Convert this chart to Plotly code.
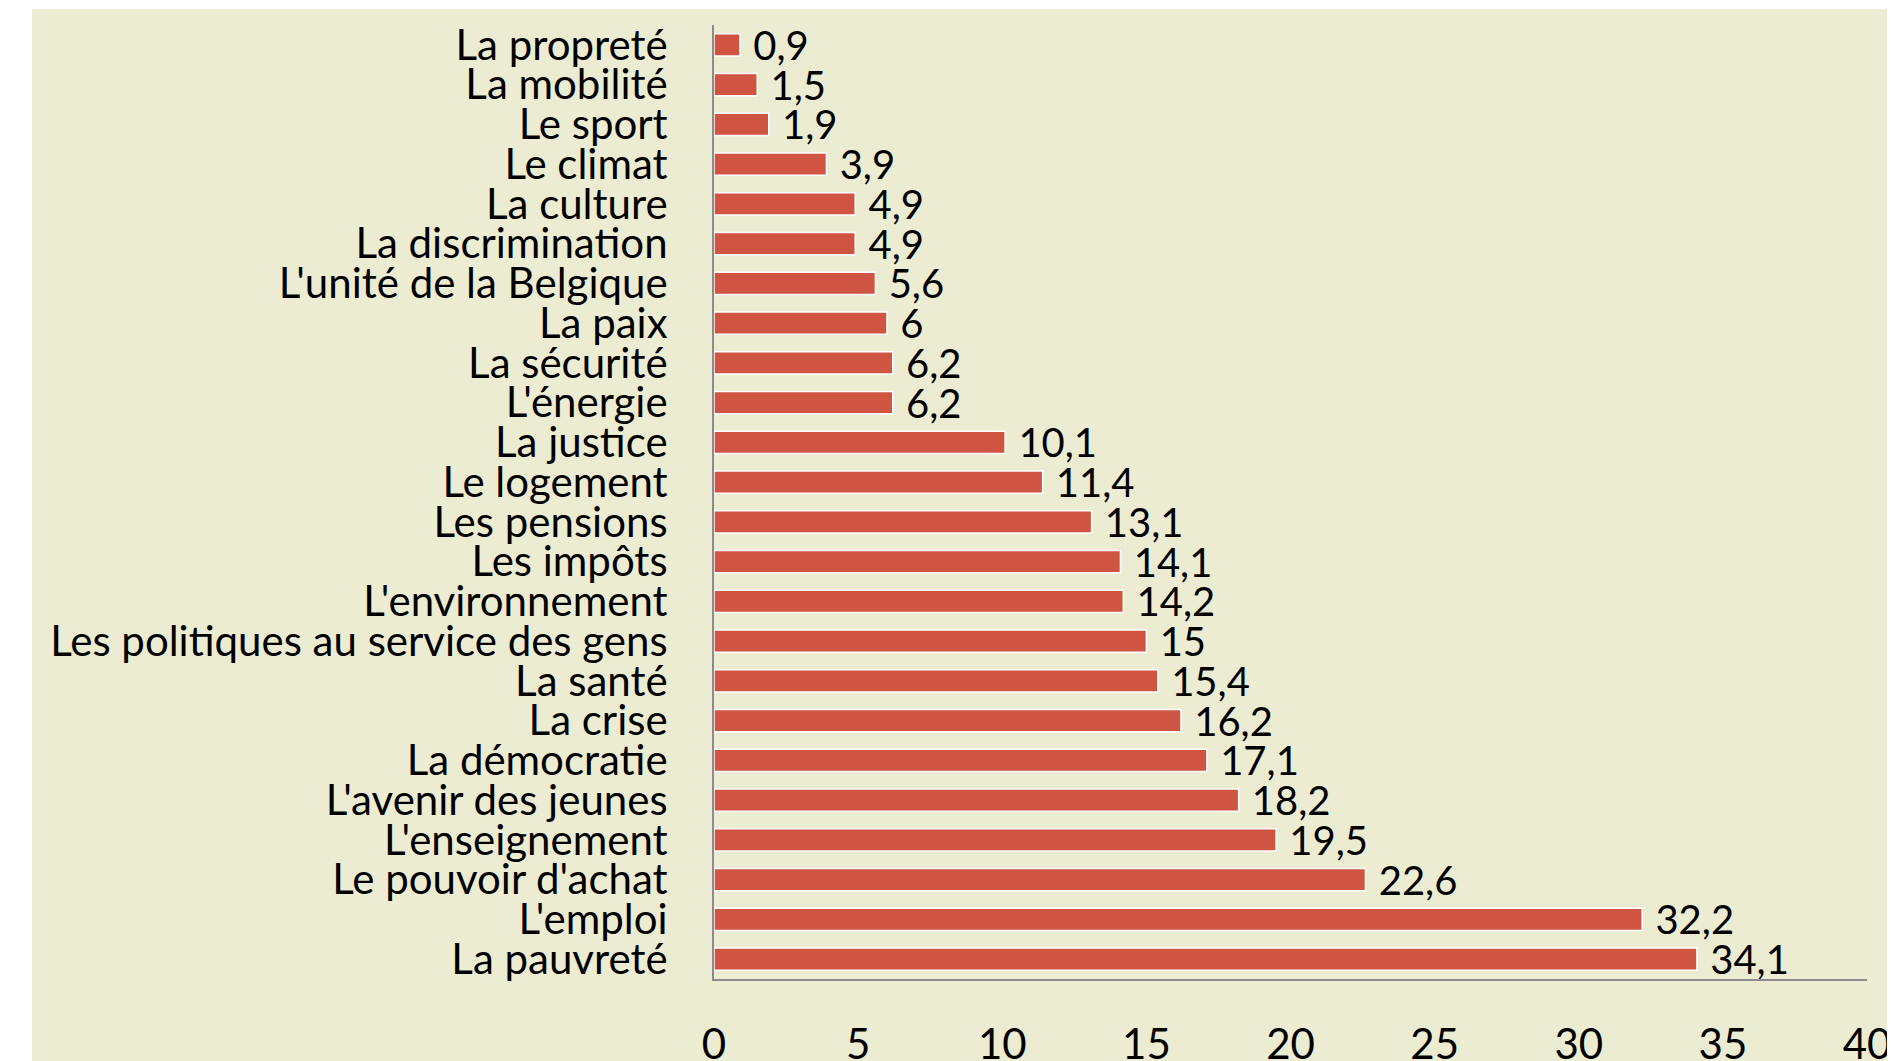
import plotly.graph_objects as go

# Données (de haut en bas dans le graphique)
categories = [
    "La propreté", "La mobilité", "Le sport", "Le climat", "La culture",
    "La discrimination", "L'unité de la Belgique", "La paix", "La sécurité",
    "L'énergie", "La justice", "Le logement", "Les pensions", "Les impôts",
    "L'environnement", "Les politiques au service des gens", "La santé",
    "La crise", "La démocratie", "L'avenir des jeunes", "L'enseignement",
    "Le pouvoir d'achat", "L'emploi", "La pauvreté",
]
valeurs = [
    0.9, 1.5, 1.9, 3.9, 4.9, 4.9, 5.6, 6, 6.2, 6.2, 10.1, 11.4, 13.1, 14.1,
    14.2, 15, 15.4, 16.2, 17.1, 18.2, 19.5, 22.6, 32.2, 34.1,
]
x_ticks = [0, 5, 10, 15, 20, 25, 30, 35, 40]

# Positions en pixels de la page (le body a une marge de 8 px)
OFF = 8
W, H = 1895 - OFF, 1061 - OFF
plot_l, plot_r, plot_t, plot_b = 714 - OFF, 1867 - OFF, 25 - OFF, 979 - OFF
bg_l, bg_r, bg_t, bg_b = 32 - OFF, 1888 - OFF, 9 - OFF, 1061 - OFF

FONT = "Lato, Carlito, Calibri, sans-serif"
BEIGE = "#ECECD2"
ROUGE = "#CF5441"

labels = [f"{v:g}".replace(".", ",") for v in valeurs]

fig = go.Figure(go.Bar(
    x=valeurs,
    y=categories,
    orientation="h",
    marker=dict(color=ROUGE, line=dict(color="white", width=1.5)),
    text=labels,
    texttemplate=" %{text}",
    textposition="outside",
    constraintext="none",
    textfont=dict(size=40, color="black", family=FONT),
    cliponaxis=False,
    width=0.56,
))

pw = plot_r - plot_l
ph = plot_b - plot_t
fig.add_shape(
    type="rect", xref="paper", yref="paper", layer="below",
    x0=(bg_l - plot_l) / pw, x1=(bg_r - plot_l) / pw,
    y0=(plot_b - bg_b) / ph, y1=(plot_b - bg_t) / ph,
    fillcolor=BEIGE, line=dict(width=0),
)

fig.update_layout(
    width=W, height=H,
    margin=dict(l=plot_l, r=W - plot_r, t=plot_t, b=H - plot_b, autoexpand=False),
    paper_bgcolor="white",
    plot_bgcolor="rgba(0,0,0,0)",
    showlegend=False,
    font=dict(family=FONT, size=42, color="black"),
)
fig.update_xaxes(
    range=[0, 40], tickvals=x_ticks, showgrid=False, zeroline=False,
    showline=True, linecolor="#8C8C8C", linewidth=2,
    ticks="", ticklabelstandoff=28, tickfont=dict(size=42),
    automargin=False,
)
fig.update_yaxes(
    categoryorder="array", categoryarray=categories, autorange="reversed",
    tickmode="array", tickvals=categories, ticktext=categories,
    showgrid=False, zeroline=False, showline=True, linecolor="#8C8C8C",
    linewidth=2, ticks="", ticklabelstandoff=36, tickfont=dict(size=42),
    automargin=False,
)

fig.write_html("out.html")
